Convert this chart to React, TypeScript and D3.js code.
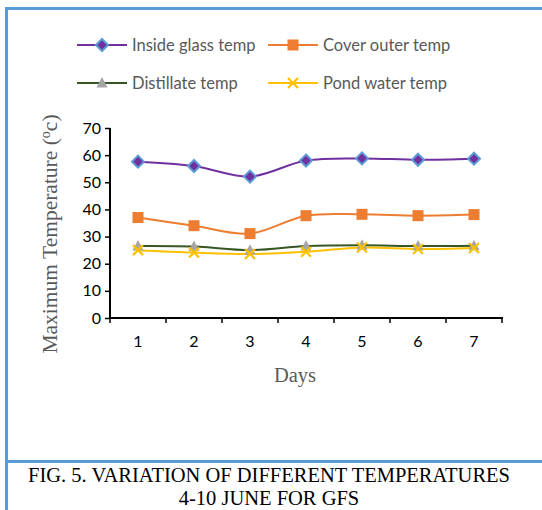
import React, { useEffect, useRef } from 'react';
import * as d3 from 'd3';

const days = ['1', '2', '3', '4', '5', '6', '7'];
const insideGlass = [57.6, 56.0, 52.1, 58.0, 58.8, 58.3, 58.7];
const coverOuter = [37.0, 34.0, 31.1, 37.7, 38.2, 37.7, 38.1];
const distillate = [26.5, 26.3, 25.0, 26.5, 26.8, 26.5, 26.6];
const pondWater = [25.0, 24.1, 23.6, 24.4, 26.0, 25.4, 25.8];
const yTicks = [0, 10, 20, 30, 40, 50, 60, 70];

const SERIES = [
  { name: 'Inside glass temp', values: insideGlass, color: '#7030A0', marker: 'diamond' },
  { name: 'Cover outer temp', values: coverOuter, color: '#ED7D31', marker: 'square' },
  { name: 'Distillate temp', values: distillate, color: '#375623', marker: 'triangle' },
  { name: 'Pond water temp', values: pondWater, color: '#FFC000', marker: 'cross' },
];

const FRAME = '#5B9BD5';
const SANS = 'Lato, "Open Sans", sans-serif';
const SERIF = '"Liberation Serif", "Times New Roman", serif';

function drawMarker(g, type, x, y) {
  if (type === 'diamond') {
    g.append('path')
      .attr('d', `M${x},${y - 6}L${x + 6},${y}L${x},${y + 6}L${x - 6},${y}Z`)
      .attr('fill', '#7030A0')
      .attr('stroke', '#5B9BD5')
      .attr('stroke-width', 2);
  } else if (type === 'square') {
    g.append('rect')
      .attr('x', x - 5.5)
      .attr('y', y - 5.5)
      .attr('width', 11)
      .attr('height', 11)
      .attr('fill', '#ED7D31');
  } else if (type === 'triangle') {
    g.append('path')
      .attr('d', `M${x},${y - 6}L${x + 5.5},${y + 4.5}L${x - 5.5},${y + 4.5}Z`)
      .attr('fill', '#A5A5A5');
  } else {
    g.append('path')
      .attr('d', `M${x - 5},${y - 5}L${x + 5},${y + 5}M${x + 5},${y - 5}L${x - 5},${y + 5}`)
      .attr('stroke', '#FFC000')
      .attr('stroke-width', 2.2);
  }
}

export default function App() {
  const svgRef = useRef(null);

  useEffect(() => {
    const svg = d3.select(svgRef.current);
    svg.selectAll('*').remove();
    const width = 542;
    const height = 510;

    // frame
    svg.append('line').attr('x1', 6.5).attr('x2', 6.5).attr('y1', 7).attr('y2', height)
      .attr('stroke', FRAME).attr('stroke-width', 3);
    svg.append('line').attr('x1', 5).attr('x2', width).attr('y1', 8.5).attr('y2', 8.5)
      .attr('stroke', FRAME).attr('stroke-width', 3);
    svg.append('line').attr('x1', 5).attr('x2', width).attr('y1', 461.5).attr('y2', 461.5)
      .attr('stroke', FRAME).attr('stroke-width', 3);

    const x = d3.scaleBand().domain(days).range([110, 502]);
    const y = d3.scaleLinear().domain([0, 70]).range([318, 128]);
    const cx = d => x(d) + x.bandwidth() / 2;

    // axes
    const yAxis = svg.append('g').attr('transform', 'translate(110,0)')
      .call(d3.axisLeft(y).tickValues(yTicks).tickSize(5).tickPadding(4));
    const xAxis = svg.append('g').attr('transform', 'translate(0,318)')
      .call(d3.axisBottom(x).tickSize(0).tickPadding(18));
    [yAxis, xAxis].forEach(a => {
      a.select('.domain').attr('stroke', '#000').attr('stroke-width', 2);
      a.selectAll('text').attr('font-family', SANS).attr('font-size', 16).attr('fill', '#000');
    });
    yAxis.select('.domain').attr('d', 'M0,128V319');
    yAxis.selectAll('.tick line').attr('stroke', '#000').attr('stroke-width', 1.5);
    xAxis.select('.domain').attr('d', 'M109,0H503');
    xAxis.selectAll('.boundary')
      .data(d3.range(days.length + 1))
      .join('line')
      .attr('x1', i => 110 + i * x.step())
      .attr('x2', i => 110 + i * x.step())
      .attr('y1', 0)
      .attr('y2', 5)
      .attr('stroke', '#000')
      .attr('stroke-width', 1.5);

    // lines
    const line = d3.line()
      .x((_, i) => cx(days[i]))
      .y(v => y(v))
      .curve(d3.curveCatmullRom.alpha(0.5));

    SERIES.forEach(s => {
      svg.append('path')
        .datum(s.values)
        .attr('d', line)
        .attr('fill', 'none')
        .attr('stroke', s.color)
        .attr('stroke-width', 2);
    });
    SERIES.forEach(s => {
      const g = svg.append('g');
      s.values.forEach((v, i) => drawMarker(g, s.marker, cx(days[i]), y(v)));
    });

    // legend
    const legendPos = [[77, 45], [268, 45], [77, 83], [268, 83]];
    SERIES.forEach((s, i) => {
      const [lx, ly] = legendPos[i];
      const g = svg.append('g');
      g.append('line').attr('x1', lx).attr('x2', lx + 50).attr('y1', ly).attr('y2', ly)
        .attr('stroke', s.color).attr('stroke-width', 2);
      drawMarker(g, s.marker, lx + 25, ly);
      g.append('text')
        .attr('x', lx + 55)
        .attr('y', ly)
        .attr('dy', '0.35em')
        .attr('font-family', SANS)
        .attr('font-size', 16.5)
        .attr('fill', '#595959')
        .text(s.name);
    });

    // axis titles
    svg.append('text')
      .attr('x', 295)
      .attr('y', 382)
      .attr('text-anchor', 'middle')
      .attr('font-family', SERIF)
      .attr('font-size', 20.5)
      .attr('fill', '#595959')
      .text('Days');

    const yt = svg.append('text')
      .attr('transform', 'translate(57,234) rotate(-90)')
      .attr('text-anchor', 'middle')
      .attr('font-family', SERIF)
      .attr('font-size', 21.5)
      .attr('fill', '#595959');
    yt.append('tspan').text('Maximum Temperature (');
    yt.append('tspan').attr('dy', -7).attr('font-size', 14).text('o');
    yt.append('tspan').attr('dy', 7).text('c)');

    // caption
    svg.append('text')
      .attr('x', 269)
      .attr('y', 482)
      .attr('text-anchor', 'middle')
      .attr('font-family', SERIF)
      .attr('font-size', 20.5)
      .attr('fill', '#000')
      .text('FIG. 5. VARIATION OF DIFFERENT TEMPERATURES');
    svg.append('text')
      .attr('x', 269)
      .attr('y', 505)
      .attr('text-anchor', 'middle')
      .attr('font-family', SERIF)
      .attr('font-size', 20.5)
      .attr('fill', '#000')
      .text('4-10 JUNE FOR GFS');
  }, []);

  return (
    <svg
      ref={svgRef}
      width={542}
      height={510}
      style={{ position: 'absolute', left: 0, top: 0, background: '#fff' }}
    />
  );
}
